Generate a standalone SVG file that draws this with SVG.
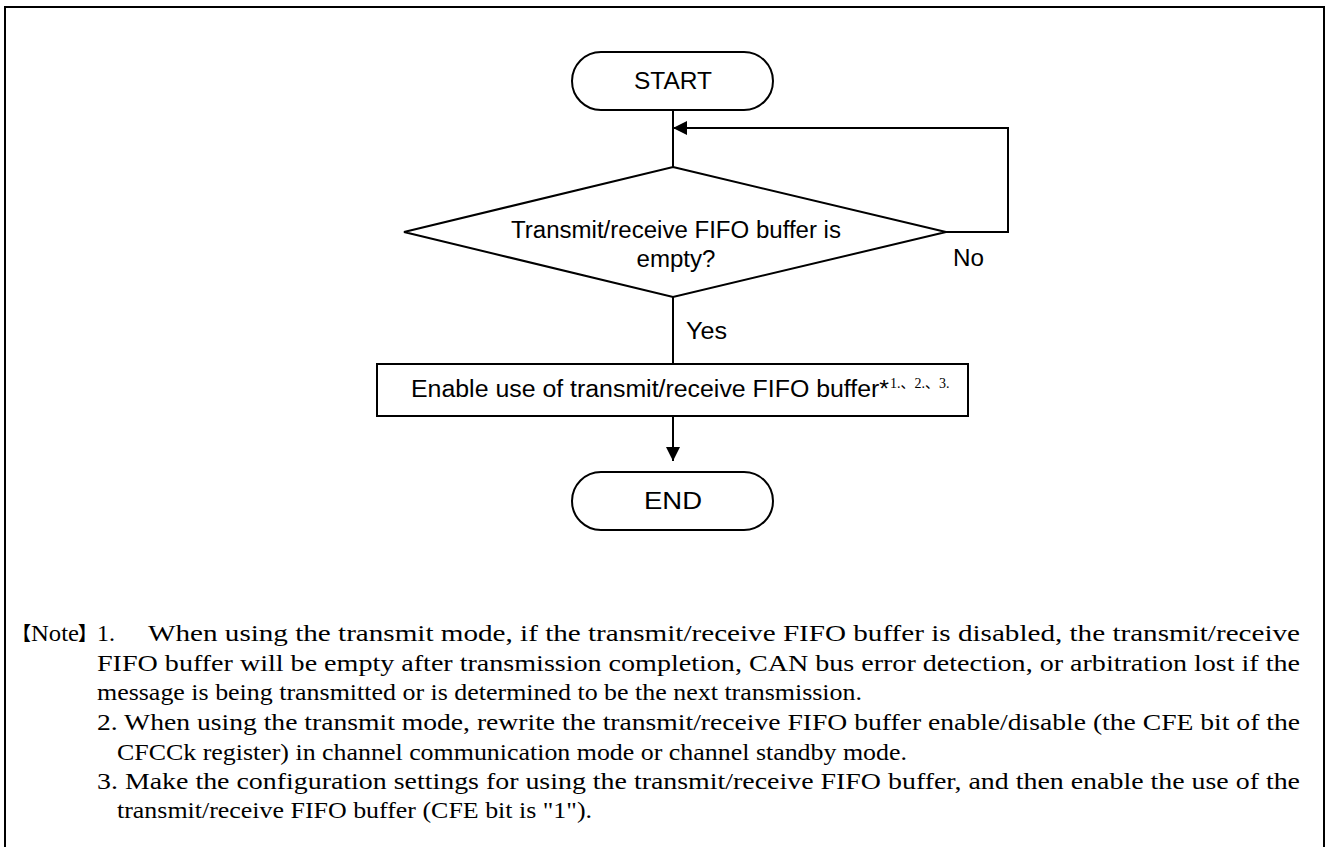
<svg xmlns="http://www.w3.org/2000/svg" width="1326" height="847" viewBox="0 0 1326 847">
<style>
.ln{fill:none;stroke:#000;stroke-width:2}
.sh{fill:#fff;stroke:#000;stroke-width:2}
.fc{font-family:"Liberation Sans",Arial,sans-serif;font-size:23px;fill:#000}
.nt{font-family:"Liberation Serif","Times New Roman","Noto Sans CJK JP",serif;font-size:24px;fill:#000}
.br{font-family:"Noto Sans CJK JP",sans-serif;font-size:19px;font-weight:bold;fill:#000}
.sup{font-family:"Liberation Serif","Times New Roman","Noto Sans CJK JP",serif;font-size:14px}
</style>
<defs>
<marker id="ah" viewBox="0 0 10 10" refX="10" refY="5" markerWidth="14" markerHeight="14" markerUnits="userSpaceOnUse" orient="auto">
<path d="M0,0 L10,5 L0,10 Z" fill="#000"/>
</marker>
</defs>
<rect id="frame" x="5" y="7" width="1319" height="845" fill="none" stroke="#000" stroke-width="2"/>
<g id="connectors">
<line class="ln" x1="673" y1="110" x2="673" y2="167"/>
<polyline class="ln" points="946,232 1008,232 1008,128 673,128" marker-end="url(#ah)"/>
<line class="ln" x1="673" y1="297" x2="673" y2="364"/>
<line class="ln" x1="673" y1="416" x2="673" y2="461" marker-end="url(#ah)"/>
</g>
<g id="start">
<rect class="sh" x="572" y="52" width="201" height="58" rx="29" ry="29"/>
<text class="fc" x="673" y="89" text-anchor="middle" textLength="78" lengthAdjust="spacingAndGlyphs">START</text>
</g>
<g id="decision">
<polygon class="sh" points="673,167 946,232 673,297 404,232"/>
<text class="fc" x="676" y="238" text-anchor="middle" textLength="330" lengthAdjust="spacingAndGlyphs">Transmit/receive FIFO buffer is</text>
<text class="fc" x="676" y="267" text-anchor="middle" textLength="79" lengthAdjust="spacingAndGlyphs">empty?</text>
<text class="fc" x="953" y="266" textLength="31" lengthAdjust="spacingAndGlyphs">No</text>
<text class="fc" x="686" y="339" textLength="41" lengthAdjust="spacingAndGlyphs">Yes</text>
</g>
<g id="process">
<rect class="sh" x="377" y="364" width="591" height="52"/>
<text class="fc" x="411" y="397" textLength="478" lengthAdjust="spacingAndGlyphs">Enable use of transmit/receive FIFO buffer*</text>
<text class="sup" x="890" y="388">1.、2.、3.</text>
</g>
<g id="end">
<rect class="sh" x="572" y="472" width="201" height="58" rx="29" ry="29"/>
<text class="fc" x="673" y="509" text-anchor="middle" textLength="58" lengthAdjust="spacingAndGlyphs">END</text>
</g>
<g id="notes">
<text class="nt" y="641"><tspan class="br" x="12">【</tspan><tspan x="31" textLength="48" lengthAdjust="spacingAndGlyphs">Note</tspan><tspan class="br" x="78">】</tspan></text>
<text class="nt" x="97" y="641">1.</text>
<text class="nt" x="148" y="641" textLength="1152" lengthAdjust="spacingAndGlyphs">When using the transmit mode, if the transmit/receive FIFO buffer is disabled, the transmit/receive</text>
<text class="nt" x="97" y="671" textLength="1203" lengthAdjust="spacingAndGlyphs">FIFO buffer will be empty after transmission completion, CAN bus error detection, or arbitration lost if the</text>
<text class="nt" x="97" y="700" textLength="765" lengthAdjust="spacingAndGlyphs">message is being transmitted or is determined to be the next transmission.</text>
<text class="nt" x="97" y="730" textLength="1203" lengthAdjust="spacingAndGlyphs">2. When using the transmit mode, rewrite the transmit/receive FIFO buffer enable/disable (the CFE bit of the</text>
<text class="nt" x="117" y="760" textLength="790" lengthAdjust="spacingAndGlyphs">CFCCk register) in channel communication mode or channel standby mode.</text>
<text class="nt" x="97" y="789" textLength="1203" lengthAdjust="spacingAndGlyphs">3. Make the configuration settings for using the transmit/receive FIFO buffer, and then enable the use of the</text>
<text class="nt" x="117" y="818" textLength="475" lengthAdjust="spacingAndGlyphs">transmit/receive FIFO buffer (CFE bit is "1").</text>
</g>
</svg>
